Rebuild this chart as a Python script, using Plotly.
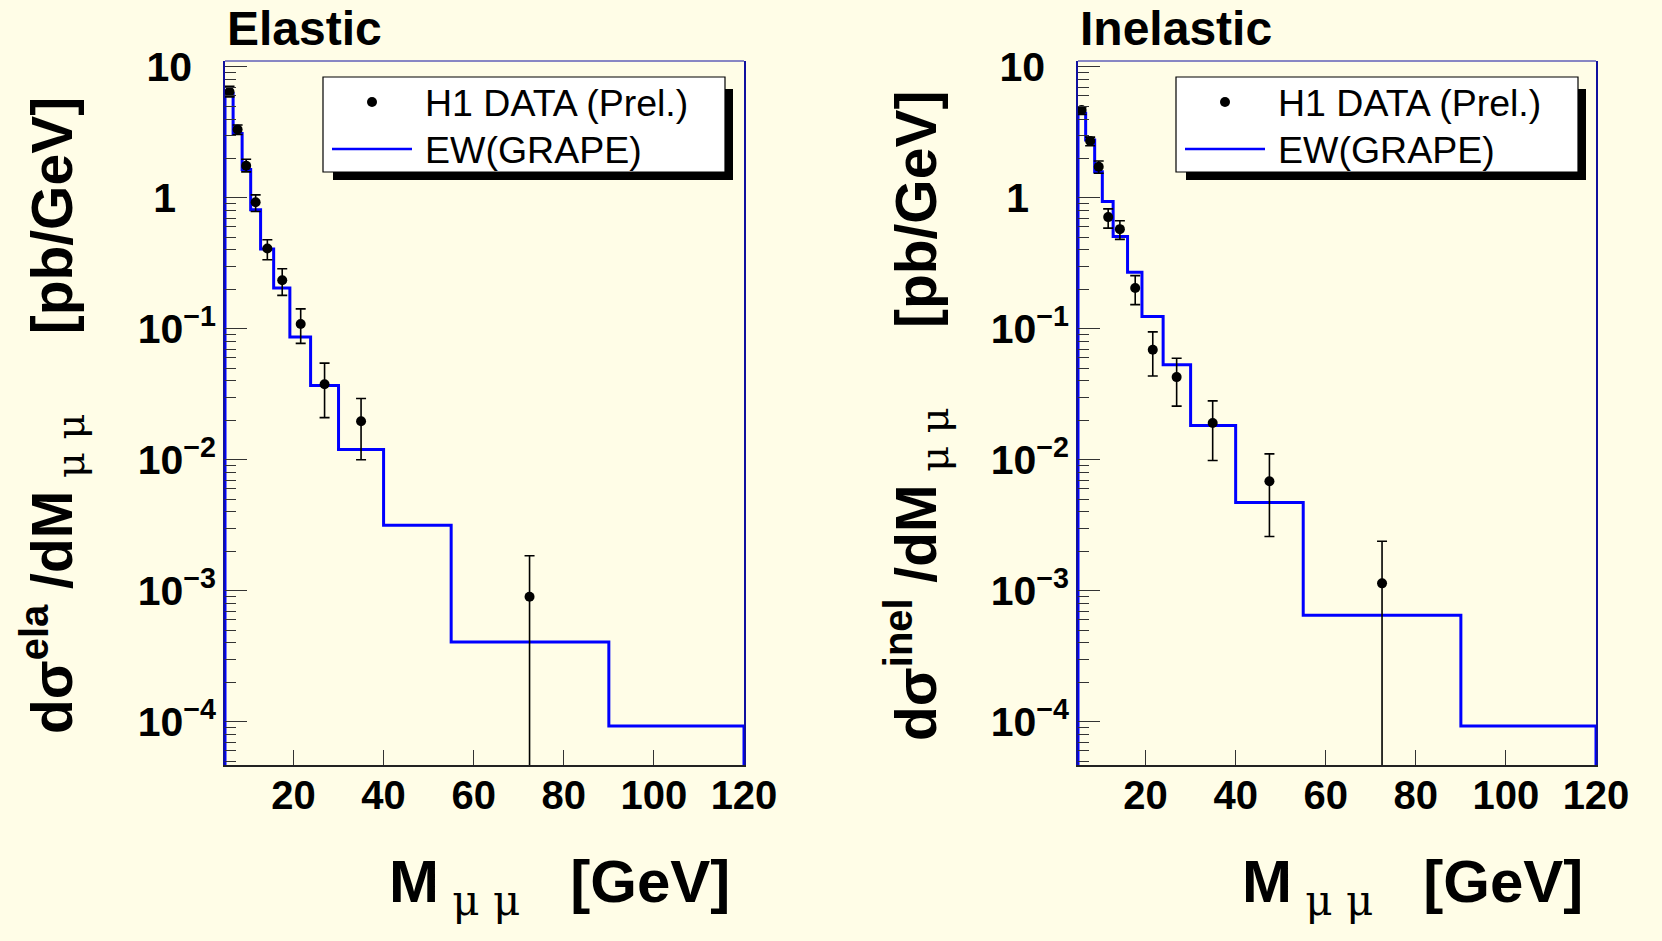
import plotly.graph_objects as go

# ---------------- data ----------------
# Elastic panel
ela_edges = [4.8, 6.6, 8.6, 10.5, 12.7, 15.6, 19.2, 23.8, 30, 40, 55, 90, 120]
ela_grape = [6.27, 3.10, 1.65, 0.81, 0.407, 0.205, 0.0865, 0.0370, 0.0120, 0.00316, 4.06e-4, 9.3e-5]
ela_x = [5.8, 7.6, 9.5, 11.6, 14.2, 17.5, 21.6, 26.9, 35.0, 72.4]
ela_y = [6.46, 3.33, 1.76, 0.927, 0.411, 0.235, 0.109, 0.0378, 0.0197, 9.0e-4]
ela_hi = [7.1, 3.6, 1.97, 1.055, 0.479, 0.288, 0.142, 0.0547, 0.0294, 1.85e-3]
ela_lo = [5.9, 3.05, 1.58, 0.787, 0.337, 0.180, 0.0775, 0.0210, 0.0100, 1e-6]

# Inelastic panel
inel_edges = [5.0, 6.7, 8.7, 10.4, 12.8, 16.0, 19.2, 23.9, 30, 40, 55, 90, 120]
inel_grape = [4.42, 2.77, 1.58, 0.937, 0.508, 0.270, 0.124, 0.0531, 0.0183, 0.00472, 6.5e-4, 9.3e-5]
inel_x = [5.8, 7.7, 9.6, 11.7, 14.3, 17.7, 21.6, 26.9, 34.9, 47.5, 72.5]
inel_y = [4.68, 2.72, 1.73, 0.713, 0.577, 0.205, 0.0692, 0.0428, 0.0191, 0.00687, 1.14e-3]
inel_hi = [4.95, 2.91, 1.91, 0.824, 0.668, 0.255, 0.0948, 0.0597, 0.0282, 0.0111, 2.39e-3]
inel_lo = [4.33, 2.50, 1.54, 0.588, 0.482, 0.153, 0.0436, 0.0257, 0.00989, 0.0026, 1e-6]

hist_floor = 1e-6

x_ticks = [20, 40, 60, 80, 100, 120]
y_ticks = [1e-4, 1e-3, 1e-2, 1e-1, 1, 10]
y_ticktext = ["10<sup>\u22124</sup>", "10<sup>\u22123</sup>", "10<sup>\u22122</sup>",
              "10<sup>\u22121</sup>", "1<sup>\u00a0\u00a0\u00a0\u00a0\u00a0</sup>",
              "10<sup>\u00a0\u00a0\u00a0</sup>"]

W, H = 1662, 941
BG = "#FFFDE7"
FONT = "Liberation Sans, Arial, Helvetica, sans-serif"
SUBSTYLE = "font-weight:normal;font-family:DejaVu Serif"


def px(x):
    return x / W


def py(y):
    return 1 - y / H


def hist_xy(edges, vals):
    xs = [edges[0]] + list(edges[:-1]) + [edges[-1], edges[-1]]
    ys = [hist_floor] + list(vals) + [vals[-1], hist_floor]
    return xs, ys


fig = go.Figure()

DX = 853  # horizontal offset of the right pad
panels = [
    dict(edges=ela_edges, grape=ela_grape, x=ela_x, y=ela_y, hi=ela_hi, lo=ela_lo,
         xa="x", ya="y", dom=[px(225), px(744)], xr=[4.8, 120],
         title="Elastic", off=0, sup="ela", ytx=52, xtx=559),
    dict(edges=inel_edges, grape=inel_grape, x=inel_x, y=inel_y, hi=inel_hi, lo=inel_lo,
         xa="x2", ya="y2", dom=[px(1078), px(1596)], xr=[5.0, 120],
         title="Inelastic", off=DX, sup="inel", ytx=916, xtx=1412),
]

shapes = []
annotations = []
for i, p in enumerate(panels):
    o = p["off"]
    hx, hy = hist_xy(p["edges"], p["grape"])
    fig.add_trace(go.Scatter(x=hx, y=hy, mode="lines", line=dict(color="#0000FF", width=3, shape="hv"),
                             xaxis=p["xa"], yaxis=p["ya"], showlegend=False, hoverinfo="skip"))
    fig.add_trace(go.Scatter(
        x=p["x"], y=p["y"], mode="markers",
        marker=dict(color="black", size=10, symbol="circle"),
        error_y=dict(type="data", symmetric=False,
                     array=[h - v for h, v in zip(p["hi"], p["y"])],
                     arrayminus=[v - l for l, v in zip(p["lo"], p["y"])],
                     color="black", thickness=1.6, width=5),
        xaxis=p["xa"], yaxis=p["ya"], showlegend=False))

    xk = "xaxis" if i == 0 else "xaxis2"
    yk = "yaxis" if i == 0 else "yaxis2"
    fig.update_layout(**{
        xk: dict(domain=p["dom"], range=p["xr"], anchor=p["ya"], tickmode="array", tickvals=x_ticks,
                 automargin=False,
                 ticks="inside", ticklen=15, tickcolor="#333333", tickwidth=1.2,
                 showline=True, linecolor="#222222", linewidth=1.5, showgrid=False, zeroline=False,
                 tickfont=dict(family=FONT, size=40, color="black", weight="bold"),
                 ticklabelstandoff=-6),
        yk: dict(domain=[py(765), py(61)], type="log", range=[-4.33, 1.045], anchor=p["xa"],
                 automargin=False,
                 tickmode="array", tickvals=y_ticks, ticktext=y_ticktext,
                 ticks="inside", ticklen=22, tickcolor="#333333", tickwidth=1.2,
                 minor=dict(dtick="D1", ticks="inside", ticklen=11, tickcolor="#333333", tickwidth=1.2,
                            showgrid=False),
                 showline=True, linecolor="#1010A0", linewidth=1.6, mirror=True,
                 showgrid=False, zeroline=False,
                 tickfont=dict(family=FONT, size=41, color="black", weight="bold"),
                 ticklabelstandoff=-1),
    })
    # top frame line
    shapes.append(dict(type="line", xref=p["xa"] + " domain", yref=p["ya"] + " domain",
                       x0=0, x1=1, y0=1, y1=1, line=dict(color="#1010A0", width=1)))

    # legend box with shadow
    lx0, ly0, lx1, ly1 = 323 + o, 77, 725 + o, 172
    shapes.append(dict(type="rect", xref="paper", yref="paper",
                       x0=px(lx0 + 10), x1=px(lx1 + 8), y0=py(ly1 + 8), y1=py(ly0 + 12),
                       fillcolor="black", line=dict(width=0), layer="above"))
    shapes.append(dict(type="rect", xref="paper", yref="paper",
                       x0=px(lx0), x1=px(lx1), y0=py(ly1), y1=py(ly0),
                       fillcolor="white", line=dict(color="black", width=1.2), layer="above"))
    shapes.append(dict(type="circle", xref="paper", yref="paper",
                       x0=px(lx0 + 44), x1=px(lx0 + 54), y0=py(ly0 + 30), y1=py(ly0 + 20),
                       fillcolor="black", line=dict(width=0), layer="above"))
    shapes.append(dict(type="line", xref="paper", yref="paper",
                       x0=px(lx0 + 9), x1=px(lx0 + 89), y0=py(ly0 + 72), y1=py(ly0 + 72),
                       line=dict(color="#0000FF", width=2.5), layer="above"))
    annotations.append(dict(text="H1 DATA (Prel.)", xref="paper", yref="paper",
                            x=px(lx0 + 100), y=py(ly0 + 26), xanchor="left", yanchor="middle",
                            showarrow=False, font=dict(family=FONT, size=37.5, color="black")))
    annotations.append(dict(text="EW(GRAPE)", xref="paper", yref="paper",
                            x=px(lx0 + 100), y=py(ly0 + 73), xanchor="left", yanchor="middle",
                            showarrow=False, font=dict(family=FONT, size=37.5, color="black")))

    # panel title
    annotations.append(dict(text=p["title"], xref="paper", yref="paper",
                            x=px(225 + o), y=py(28), xanchor="left", yanchor="middle",
                            showarrow=False, font=dict(family=FONT, size=48, color="black", weight="bold")))
    # y title
    annotations.append(dict(
        text="d\u03c3<sup>" + p["sup"] + "</sup>\u00a0/dM<sub><span style='" + SUBSTYLE + "'>\u00a0\u03bc \u03bc</span></sub>\u00a0\u00a0\u00a0\u00a0\u00a0[pb/GeV]",
        xref="paper", yref="paper", x=px(p["ytx"]), y=py(416), xanchor="center", yanchor="middle",
        textangle=-90, showarrow=False, font=dict(family=FONT, size=57, color="black", weight="bold")))
    # x title
    annotations.append(dict(
        text="M<sub><span style='" + SUBSTYLE + "'>\u00a0\u03bc \u03bc</span></sub>\u00a0\u00a0\u00a0[GeV]",
        xref="paper", yref="paper", x=px(p["xtx"]), y=py(886), xanchor="center", yanchor="middle",
        showarrow=False, font=dict(family=FONT, size=60, color="black", weight="bold")))

fig.update_layout(width=W, height=H, margin=dict(l=0, r=0, t=0, b=0, autoexpand=False),
                  paper_bgcolor=BG, plot_bgcolor=BG, showlegend=False,
                  shapes=shapes, annotations=annotations)

fig.write_html("out.html")
